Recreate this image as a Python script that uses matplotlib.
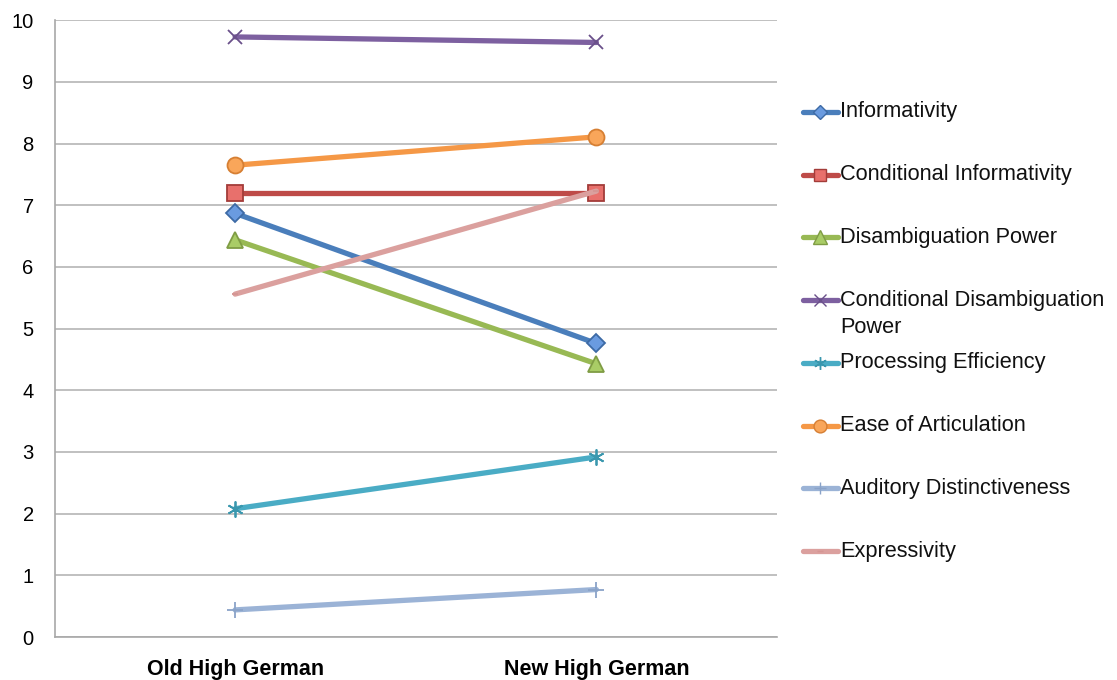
import matplotlib
matplotlib.use('Agg')
import matplotlib.pyplot as plt
from matplotlib.lines import Line2D

# data
periods = ['Old High German', 'New High German']
informativity = [6.87, 4.76]
conditional_informativity = [7.20, 7.20]
disambiguation_power = [6.44, 4.43]
conditional_disambiguation_power = [9.73, 9.64]
processing_efficiency = [2.08, 2.92]
ease_of_articulation = [7.65, 8.11]
auditory_distinctiveness = [0.44, 0.77]
expressivity = [5.56, 7.23]

names = ['Informativity', 'Conditional Informativity', 'Disambiguation Power',
         'Conditional Disambiguation\nPower', 'Processing Efficiency',
         'Ease of Articulation', 'Auditory Distinctiveness', 'Expressivity']
series = [informativity, conditional_informativity, disambiguation_power,
          conditional_disambiguation_power, processing_efficiency,
          ease_of_articulation, auditory_distinctiveness, expressivity]

# line colour, marker, marker face, marker edge, marker size
styles = [
    ('#4a7ebb', 'D', '#6a9be0', '#3d6aa5', 9.5),
    ('#be4b48', 's', '#e8706c', '#a33c39', 11),
    ('#98b954', '^', '#a9cc66', '#7f9c44', 12),
    ('#7d60a0', 'x', '#7d60a0', '#6a508a', 10.5),
    ('#4aacc5', (6, 2, 0), '#4aacc5', '#3a97ae', 11.5),
    ('#f59846', 'o', '#f9a65a', '#d67f33', 11.5),
    ('#9bb3d6', '+', '#9bb3d6', '#8aa3c8', 11.5),
    ('#dba09e', '_', '#dba09e', '#d59593', 5),
]

plt.rcParams['font.family'] = ['Liberation Sans', 'DejaVu Sans']

fig = plt.figure(figsize=(11.17, 6.8), dpi=100)
ax = fig.add_axes([0.0488, 0.0632, 0.6468, 0.9070])

x = list(range(len(periods)))
for vals, (col, mk, mfc, mec, ms) in zip(series, styles):
    ax.plot(x, vals, color=col, lw=3.8, marker=mk, markersize=ms,
            markerfacecolor=mfc, markeredgecolor=mec, markeredgewidth=1.3,
            solid_capstyle='round', clip_on=False, zorder=3)

ax.set_xlim(-0.5, 1.5)
ax.set_ylim(0, 10)
ax.set_yticks(range(0, 11))
ax.set_xticks(x)
ax.set_xticklabels(periods, fontsize=15.5, fontweight='bold')
ax.tick_params(axis='y', labelsize=14.5, length=0, pad=15)
ax.tick_params(axis='x', length=0, pad=16)
ax.grid(axis='y', color='#b5b5b5', lw=1.2)
ax.set_axisbelow(True)
for s in ['top', 'right']:
    ax.spines[s].set_visible(False)
for s in ['left', 'bottom']:
    ax.spines[s].set_color('#a8a8a8')
    ax.spines[s].set_linewidth(1.2)

# legend on the right, one entry per series
W, H = 1117, 680
y0, step, line_step = 111.7, 62.8, 27.5
for i, (name, (col, mk, mfc, mec, ms)) in enumerate(zip(names, styles)):
    yy = 1 - (y0 + i * step) / H
    fig.add_artist(Line2D([803 / W, 838 / W], [yy, yy], transform=fig.transFigure,
                          color=col, lw=3.8, solid_capstyle='round'))
    fig.add_artist(Line2D([820.5 / W], [yy], transform=fig.transFigure,
                          marker=mk, markersize=ms * 0.8, markerfacecolor=mfc,
                          markeredgecolor=mec, markeredgewidth=1.0, lw=0))
    for j, part in enumerate(name.split('\n')):
        fig.text(840 / W, yy - j * line_step / H, part, fontsize=15.7,
                 va='center', ha='left', color='#111111')

fig.savefig('out.png', dpi=100)
